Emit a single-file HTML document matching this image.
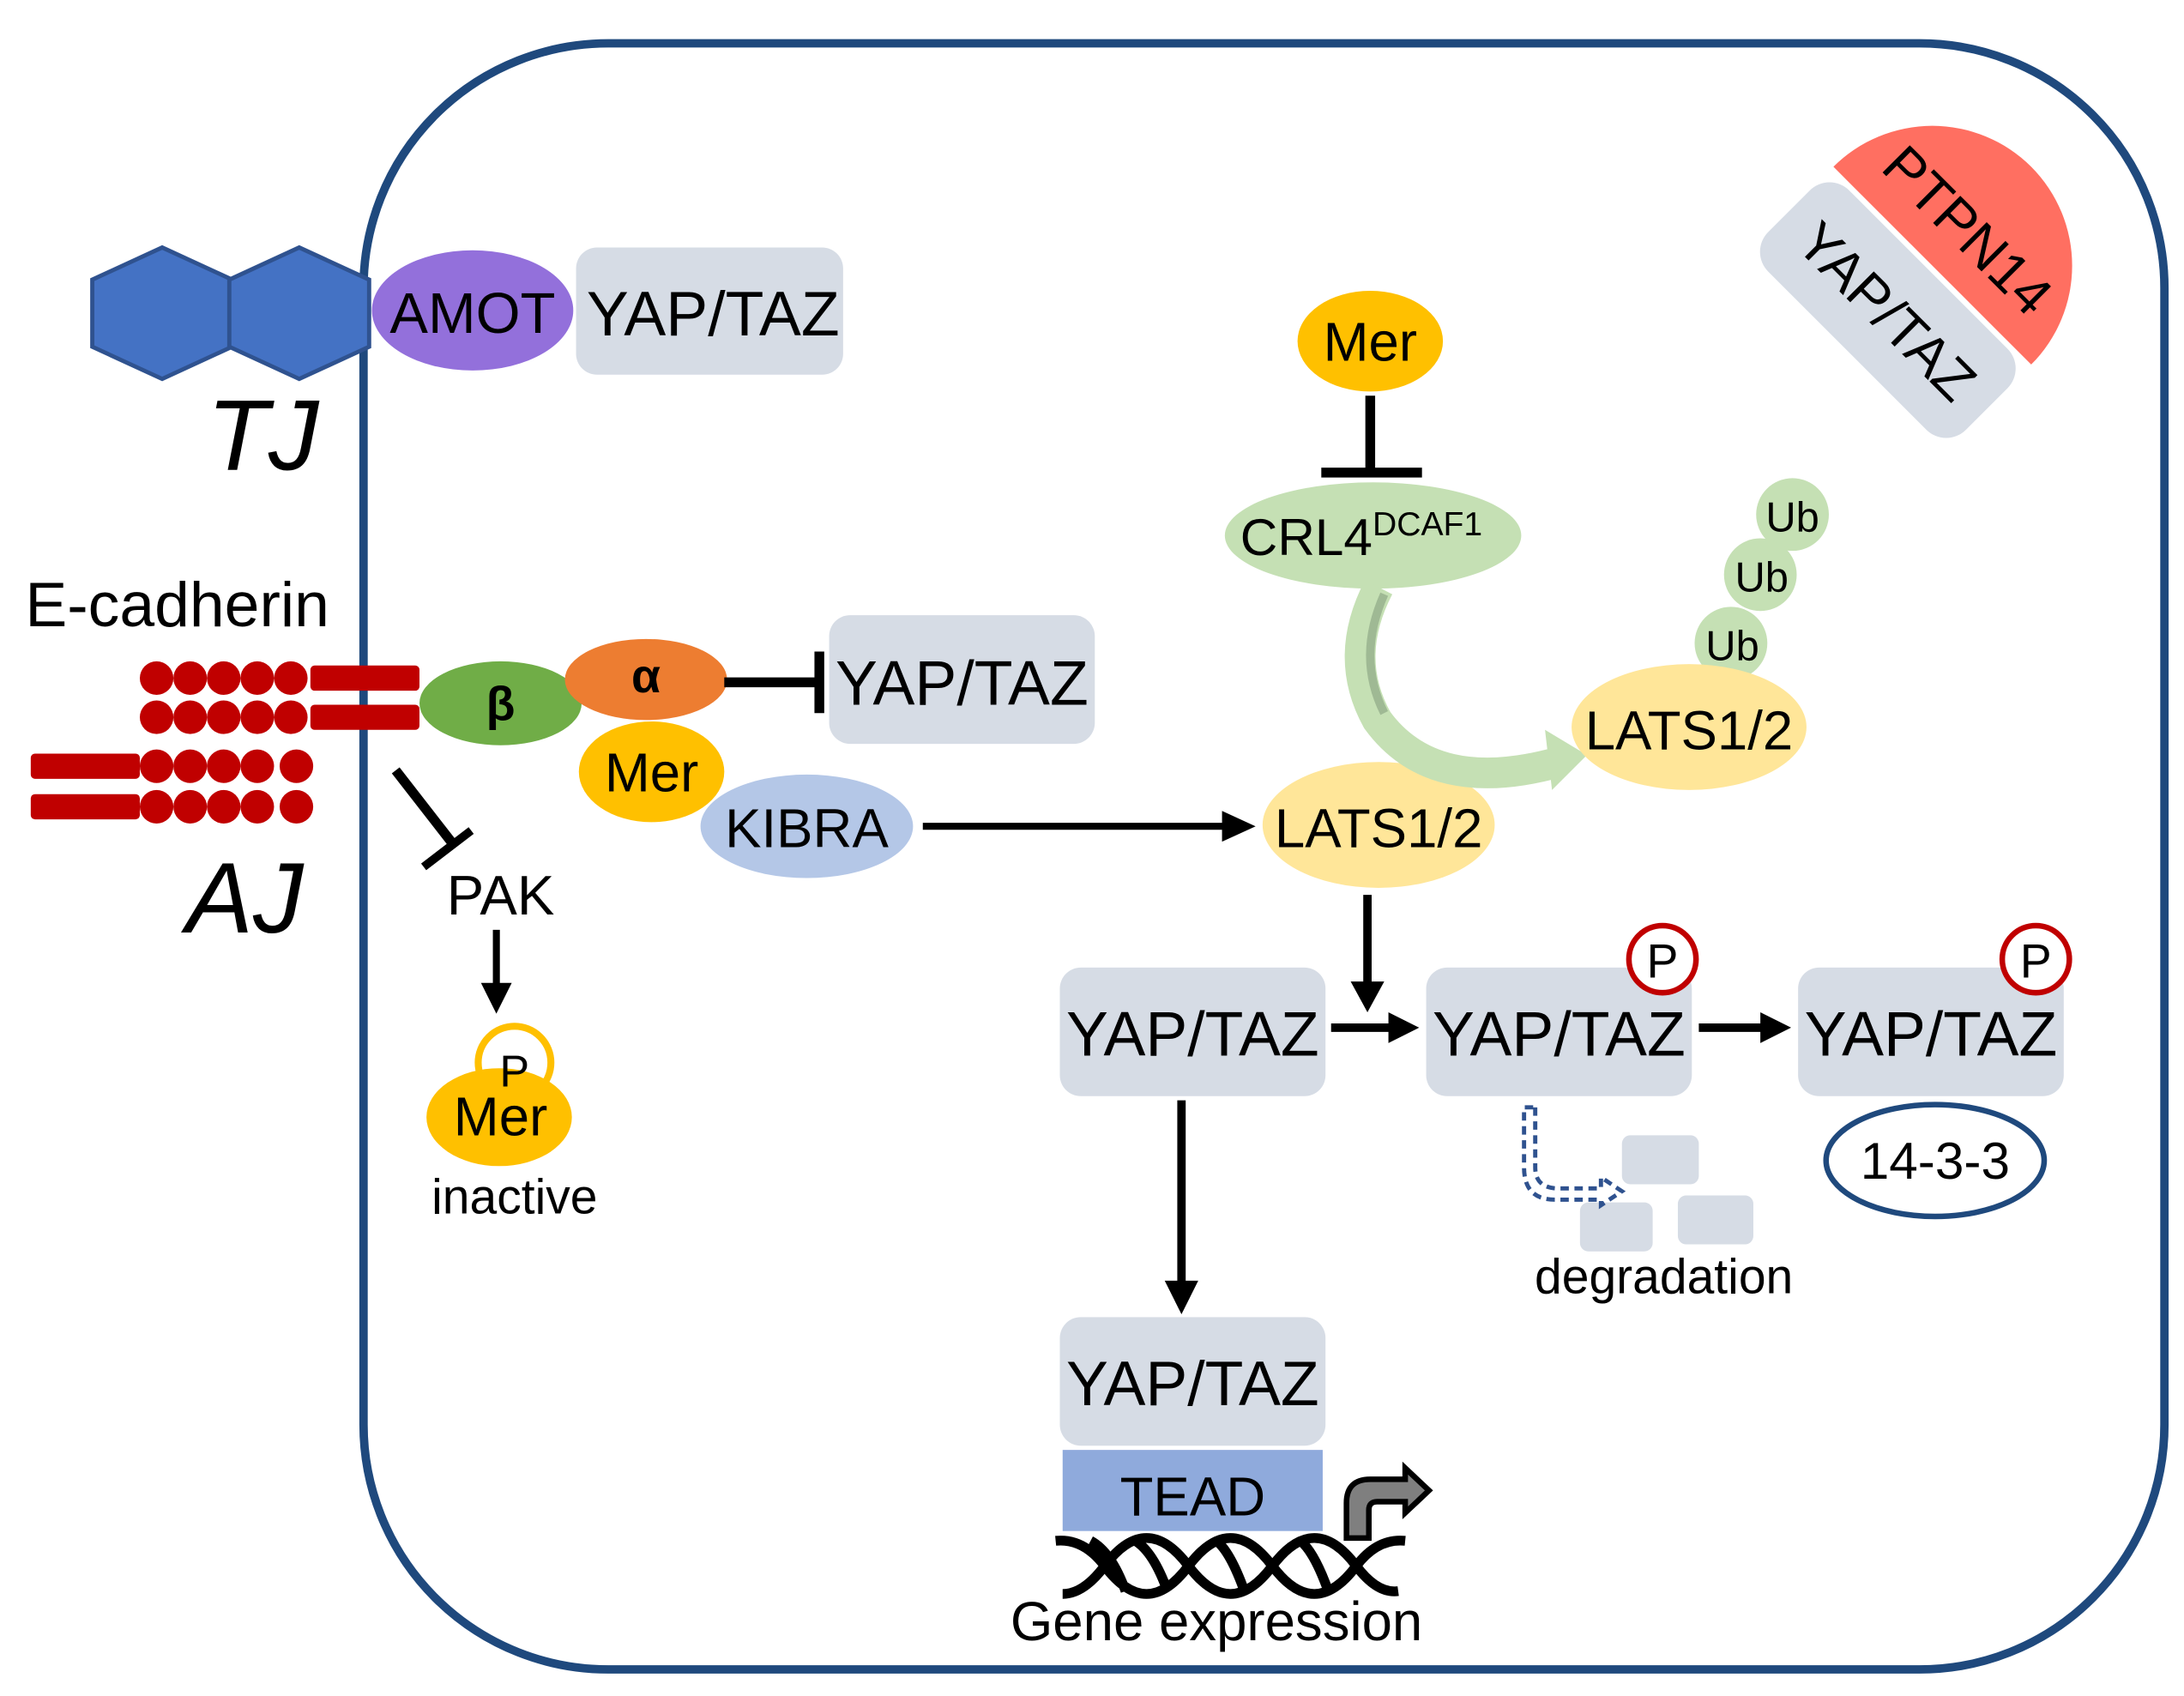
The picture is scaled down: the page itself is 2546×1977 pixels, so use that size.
<!DOCTYPE html>
<html><head><meta charset="utf-8"><style>html,body{margin:0;padding:0;background:#fff}svg{display:block}text{font-family:"Liberation Sans",sans-serif}</style></head><body>
<svg width="2546" height="1977" viewBox="0 0 1562 1213" preserveAspectRatio="none" xmlns="http://www.w3.org/2000/svg">
<rect x="260" y="31" width="1288" height="1163" rx="175" fill="none" stroke="#1f497d" stroke-width="6"/>
<!-- TJ hexagons -->
<polygon points="66,200 116,177 166,200 166,248 116,271 66,248" fill="#4472c4" stroke="#2f528f" stroke-width="3"/>
<polygon points="164,200 214,177 264,200 264,248 214,271 164,248" fill="#4472c4" stroke="#2f528f" stroke-width="3"/>
<ellipse cx="338" cy="222" rx="72" ry="43" fill="#9370db"/>
<text x="338" y="238" font-size="41" text-anchor="middle">AMOT</text>
<rect x="412" y="177" width="191" height="91" rx="15" fill="#d6dce5"/>
<text x="510" y="240" font-size="45" text-anchor="middle">YAP/TAZ</text>
<text x="148" y="336" font-size="72" font-style="italic">TJ</text>
<text x="18" y="448" font-size="45">E-cadherin</text>
<!-- cadherin -->
<g fill="#c00000">
<circle cx="112" cy="485" r="12"/><circle cx="136" cy="485" r="12"/><circle cx="160" cy="485" r="12"/><circle cx="184" cy="485" r="12"/><circle cx="208" cy="485" r="12"/>
<rect x="222" y="476" width="78" height="18" rx="3"/>
<circle cx="112" cy="513" r="12"/><circle cx="136" cy="513" r="12"/><circle cx="160" cy="513" r="12"/><circle cx="184" cy="513" r="12"/><circle cx="208" cy="513" r="12"/>
<rect x="222" y="504" width="78" height="18" rx="3"/>
<rect x="22" y="539" width="78" height="18" rx="3"/>
<circle cx="112" cy="548" r="12"/><circle cx="136" cy="548" r="12"/><circle cx="160" cy="548" r="12"/><circle cx="184" cy="548" r="12"/><circle cx="212" cy="548" r="12"/>
<rect x="22" y="568" width="78" height="18" rx="3"/>
<circle cx="112" cy="577" r="12"/><circle cx="136" cy="577" r="12"/><circle cx="160" cy="577" r="12"/><circle cx="184" cy="577" r="12"/><circle cx="212" cy="577" r="12"/>
</g>
<ellipse cx="358" cy="503" rx="58" ry="30" fill="#70ad47"/>
<text x="358" y="515" font-size="34" text-anchor="middle" font-family="Liberation Serif" font-weight="bold">β</text>
<ellipse cx="462" cy="486" rx="58" ry="29" fill="#ed7d31"/>
<text x="462" y="495" font-size="34" text-anchor="middle" font-family="Liberation Serif" font-weight="bold">α</text>
<line x1="518" y1="488" x2="583" y2="488" stroke="#000" stroke-width="7"/>
<line x1="586" y1="466" x2="586" y2="510" stroke="#000" stroke-width="7"/>
<rect x="593" y="440" width="190" height="92" rx="15" fill="#d6dce5"/>
<text x="688" y="504" font-size="45" text-anchor="middle">YAP/TAZ</text>
<ellipse cx="466" cy="552" rx="52" ry="36" fill="#ffc000"/>
<text x="466" y="566" font-size="39" text-anchor="middle">Mer</text>
<ellipse cx="577" cy="591" rx="76" ry="37" fill="#b4c7e7"/>
<text x="577" y="606" font-size="39" text-anchor="middle">KIBRA</text>
<line x1="660" y1="591" x2="878" y2="591" stroke="#000" stroke-width="5"/>
<polygon points="874,580 898,591 874,602" fill="#000"/>
<ellipse cx="986" cy="590" rx="83" ry="45" fill="#ffe699"/>
<text x="986" y="606" font-size="39" text-anchor="middle">LATS1/2</text>
<text x="133" y="667" font-size="72" font-style="italic">AJ</text>
<line x1="283" y1="551" x2="325" y2="605" stroke="#000" stroke-width="7"/>
<line x1="303" y1="620" x2="337" y2="594" stroke="#000" stroke-width="6"/>
<text x="358" y="654" font-size="40" text-anchor="middle">PAK</text>
<line x1="355" y1="665" x2="355" y2="707" stroke="#000" stroke-width="5"/>
<polygon points="344,703 355,725 366,703" fill="#000"/>
<circle cx="368" cy="760" r="26" fill="#fff" stroke="#ffc000" stroke-width="5"/>
<ellipse cx="357" cy="799" rx="52" ry="35" fill="#ffc000"/>
<text x="368" y="777" font-size="32" text-anchor="middle">P</text>
<text x="358" y="812" font-size="39" text-anchor="middle">Mer</text>
<text x="368" y="868" font-size="35" text-anchor="middle">inactive</text>
<!-- top Mer / CRL4 -->
<ellipse cx="980" cy="244" rx="52" ry="36" fill="#ffc000"/>
<text x="980" y="258" font-size="39" text-anchor="middle">Mer</text>
<line x1="980" y1="283" x2="980" y2="336" stroke="#000" stroke-width="7"/>
<line x1="945" y1="338" x2="1017" y2="338" stroke="#000" stroke-width="7"/>
<ellipse cx="982" cy="383" rx="106" ry="38" fill="#c5e0b4"/>
<text x="887" y="397" font-size="37">CRL4<tspan font-size="24" dy="-14">DCAF1</tspan></text>
<path d="M986,420 Q960,470 985,515 Q1025,570 1115,545" fill="none" stroke="#c5e0b4" stroke-width="22"/>
<path d="M990,425 Q970,470 990,510" fill="none" stroke="#9fb994" stroke-width="6"/>
<polygon points="1105,522 1135,540 1110,565" fill="#c5e0b4"/>
<circle cx="1282" cy="368" r="26" fill="#c5e0b4"/>
<text x="1282" y="380" font-size="30" text-anchor="middle">Ub</text>
<circle cx="1259" cy="411" r="26" fill="#c5e0b4"/>
<text x="1260" y="423" font-size="30" text-anchor="middle">Ub</text>
<circle cx="1238" cy="460" r="26" fill="#c5e0b4"/>
<text x="1239" y="472" font-size="30" text-anchor="middle">Ub</text>
<ellipse cx="1208" cy="520" rx="84" ry="45" fill="#ffe699"/>
<text x="1208" y="536" font-size="39" text-anchor="middle">LATS1/2</text>
<!-- PTPN14 -->
<g transform="translate(1382,190) rotate(45)">
<rect x="-100" y="4" width="200" height="82" rx="20" fill="#d6dce5"/>
<path d="M-100,0 A100,100 0 0 1 100,0 Z" fill="#ff6f61"/>
<text x="0" y="-22" font-size="40" text-anchor="middle">PTPN14</text>
<text x="0" y="60" font-size="40" text-anchor="middle">YAP/TAZ</text>
</g>
<!-- YAP/TAZ pathway -->
<line x1="978" y1="640" x2="978" y2="705" stroke="#000" stroke-width="6"/>
<polygon points="966,702 978,724 990,702" fill="#000"/>
<rect x="758" y="692" width="190" height="92" rx="15" fill="#d6dce5"/>
<text x="853" y="755" font-size="45" text-anchor="middle">YAP/TAZ</text>
<line x1="952" y1="735" x2="995" y2="735" stroke="#000" stroke-width="6"/>
<polygon points="993,724 1015,735 993,746" fill="#000"/>
<rect x="1020" y="692" width="190" height="92" rx="15" fill="#d6dce5"/>
<text x="1115" y="755" font-size="45" text-anchor="middle">YAP/TAZ</text>
<line x1="1215" y1="735" x2="1262" y2="735" stroke="#000" stroke-width="6"/>
<polygon points="1259,724 1281,735 1259,746" fill="#000"/>
<rect x="1286" y="692" width="190" height="92" rx="15" fill="#d6dce5"/>
<text x="1381" y="755" font-size="45" text-anchor="middle">YAP/TAZ</text>
<circle cx="1189" cy="686" r="24" fill="#fff" stroke="#c00000" stroke-width="4"/>
<text x="1189" y="699" font-size="34" text-anchor="middle">P</text>
<circle cx="1456" cy="686" r="24" fill="#fff" stroke="#c00000" stroke-width="4"/>
<text x="1456" y="699" font-size="34" text-anchor="middle">P</text>
<ellipse cx="1384" cy="830" rx="78" ry="40" fill="#fff" stroke="#1f497d" stroke-width="4"/>
<text x="1384" y="843" font-size="37" text-anchor="middle">14-3-3</text>
<!-- degradation -->
<rect x="1160" y="812" width="55" height="35" rx="6" fill="#d6dce5"/>
<rect x="1130" y="860" width="52" height="35" rx="6" fill="#d6dce5"/>
<rect x="1200" y="855" width="54" height="35" rx="6" fill="#d6dce5"/>
<path d="M1098,792 L1098,835 Q1098,850 1115,850 L1145,850 L1145,842 L1160,852 L1145,862 L1145,858 L1112,858 Q1090,858 1090,835 L1090,792 Z" fill="#fff" stroke="#2f528f" stroke-width="3" stroke-dasharray="6,4"/>
<text x="1190" y="925" font-size="35" text-anchor="middle">degradation</text>
<line x1="845" y1="787" x2="845" y2="920" stroke="#000" stroke-width="6"/>
<polygon points="833,916 845,940 857,916" fill="#000"/>
<rect x="758" y="942" width="190" height="92" rx="15" fill="#d6dce5"/>
<text x="853" y="1005" font-size="45" text-anchor="middle">YAP/TAZ</text>
<rect x="760" y="1037" width="186" height="58" fill="#8faadc"/>
<text x="853" y="1084" font-size="39" text-anchor="middle">TEAD</text>
<!-- DNA -->
<g fill="none" stroke="#000" stroke-width="7">
<path d="M755,1102 Q775,1100 790,1120 Q805,1140 820,1140 Q835,1140 850,1120 Q865,1100 880,1100 Q895,1100 910,1120 Q925,1140 940,1140 Q955,1140 970,1120 Q985,1100 1005,1102"/>
<path d="M760,1140 Q775,1140 790,1120 Q805,1100 820,1100 Q835,1100 850,1120 Q865,1140 880,1140 Q895,1140 910,1120 Q925,1100 940,1100 Q955,1100 970,1120 Q985,1140 1000,1138"/>
<path d="M780,1102 Q795,1110 805,1138 M812,1102 Q825,1110 835,1138 M870,1102 Q880,1110 890,1138 M930,1102 Q940,1110 950,1138"/>
</g>
<path d="M963,1100 L963,1075 Q963,1058 980,1058 L1005,1058 L1005,1050 L1022,1066 L1005,1082 L1005,1074 L985,1074 Q979,1074 979,1080 L979,1100 Z" fill="#7f7f7f" stroke="#000" stroke-width="4"/>
<text x="870" y="1173" font-size="39" text-anchor="middle">Gene expression</text>
</svg>
</body></html>
